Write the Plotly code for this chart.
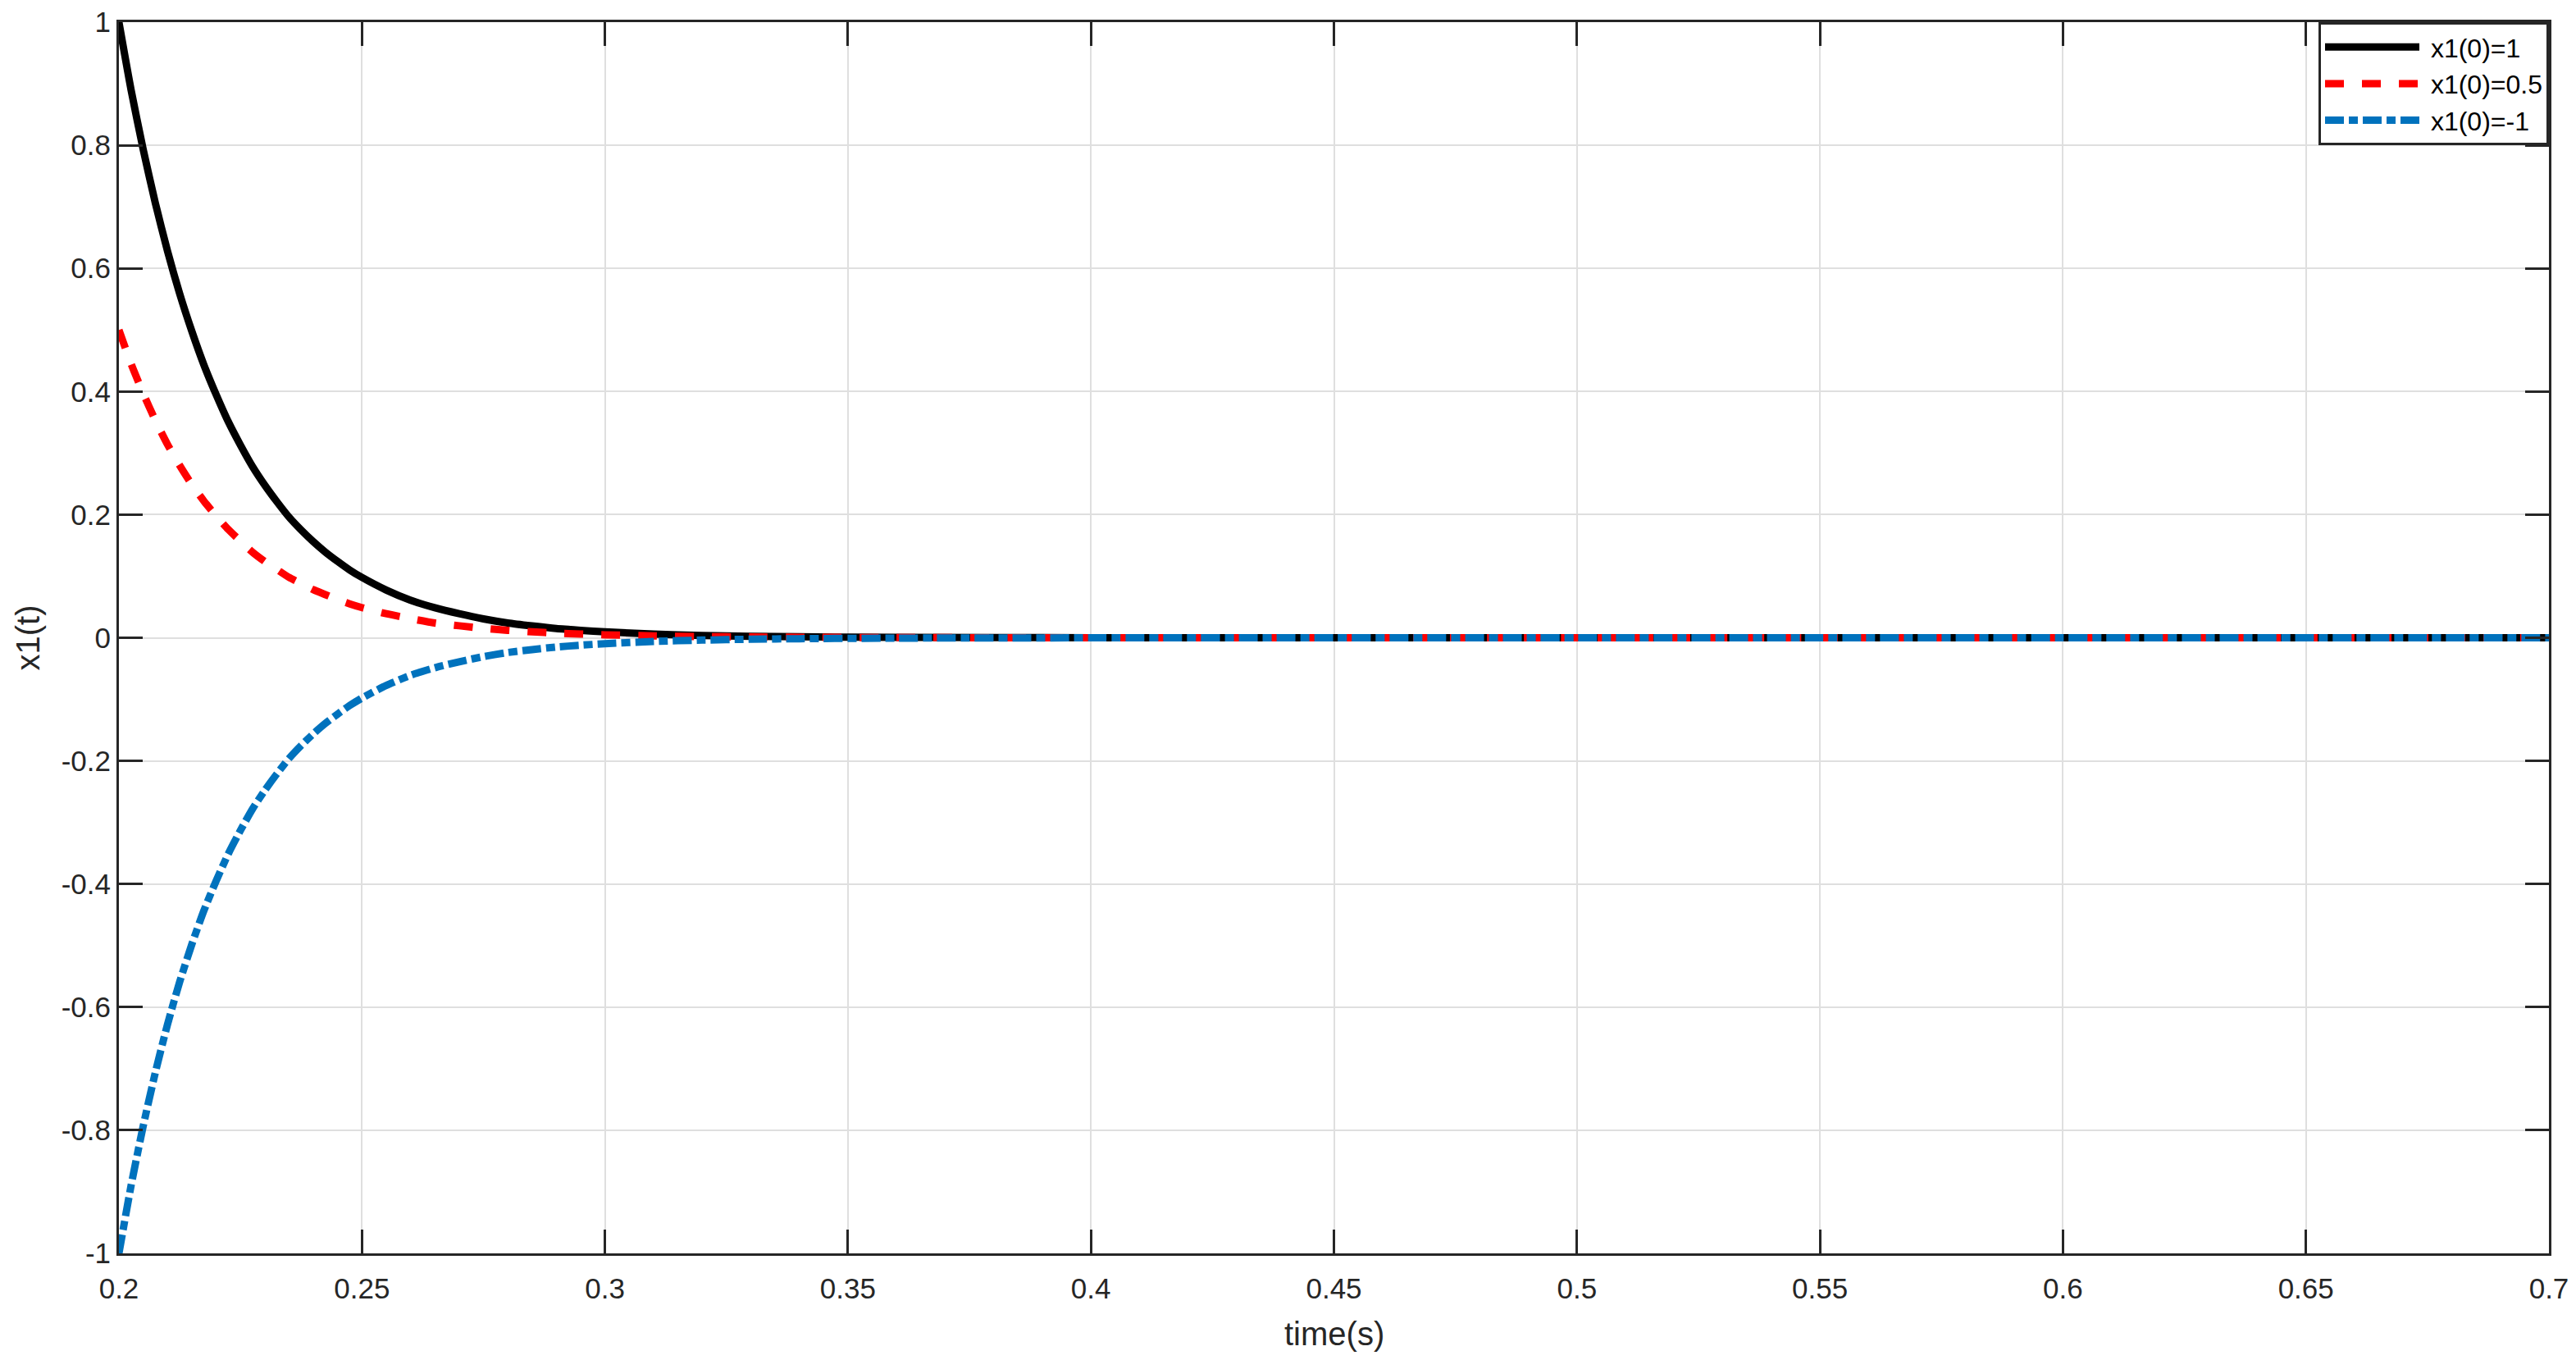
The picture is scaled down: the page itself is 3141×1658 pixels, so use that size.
import plotly.graph_objects as go

# time samples (s) and read-off responses of x1(t) for three initial conditions
t = [0.200, 0.2025, 0.205, 0.2075, 0.210, 0.2125, 0.215, 0.2175, 0.220, 0.2225,
     0.225, 0.2275, 0.230, 0.2325, 0.235, 0.2375, 0.240, 0.2425, 0.245, 0.2475,
     0.250, 0.255, 0.260, 0.265, 0.270, 0.275, 0.280, 0.285, 0.290, 0.295,
     0.300, 0.310, 0.320, 0.330, 0.340, 0.360, 0.400, 0.450, 0.500, 0.550,
     0.600, 0.650, 0.700]

x1_start_1 = [1.000, 0.890, 0.793, 0.706, 0.628, 0.559, 0.498, 0.443, 0.395, 0.351,
              0.313, 0.278, 0.248, 0.221, 0.196, 0.175, 0.156, 0.139, 0.124, 0.110,
              0.098, 0.0775, 0.061, 0.0487, 0.039, 0.0306, 0.024, 0.0192, 0.015, 0.0121,
              0.0096, 0.0060, 0.0038, 0.0024, 0.0015, 0.0006, 0.0001, 0.0, 0.0, 0.0,
              0.0, 0.0, 0.0]

x1_start_05 = [0.500, 0.445, 0.397, 0.353, 0.314, 0.280, 0.249, 0.222, 0.198, 0.176,
               0.157, 0.139, 0.124, 0.111, 0.098, 0.088, 0.078, 0.070, 0.062, 0.055,
               0.049, 0.039, 0.031, 0.024, 0.0195, 0.0153, 0.012, 0.0096, 0.0075, 0.006,
               0.0048, 0.003, 0.0019, 0.0012, 0.0008, 0.0003, 0.0, 0.0, 0.0, 0.0,
               0.0, 0.0, 0.0]

x1_start_m1 = [-1.000, -0.890, -0.793, -0.706, -0.628, -0.559, -0.498, -0.443, -0.395, -0.351,
               -0.313, -0.278, -0.248, -0.221, -0.196, -0.175, -0.156, -0.139, -0.124, -0.110,
               -0.098, -0.0775, -0.061, -0.0487, -0.039, -0.0306, -0.024, -0.0192, -0.015, -0.0121,
               -0.0096, -0.0060, -0.0038, -0.0024, -0.0015, -0.0006, -0.0001, 0.0, 0.0, 0.0,
               0.0, 0.0, 0.0]

x_tick_vals = [0.2, 0.25, 0.3, 0.35, 0.4, 0.45, 0.5, 0.55, 0.6, 0.65, 0.7]
x_tick_text = ["0.2", "0.25", "0.3", "0.35", "0.4", "0.45", "0.5", "0.55", "0.6", "0.65", "0.7"]
y_tick_vals = [-1, -0.8, -0.6, -0.4, -0.2, 0, 0.2, 0.4, 0.6, 0.8, 1]
y_tick_text = ["-1", "-0.8", "-0.6", "-0.4", "-0.2", "0", "0.2", "0.4", "0.6", "0.8", "1"]

FONT = "Liberation Sans, Arial, sans-serif"
AXIS_COLOR = "#262626"
GRID_COLOR = "#dfdfdf"

traces = [
    go.Scatter(x=t, y=x1_start_1, mode="lines", name="\u00a0x1(0)=1",
               line=dict(color="#000000", width=9, shape="spline", smoothing=0.6)),
    go.Scatter(x=t, y=x1_start_05, mode="lines", name="\u00a0x1(0)=0.5",
               line=dict(color="#ff0000", width=9, dash="23px,22px",
                         shape="spline", smoothing=0.6)),
    go.Scatter(x=t, y=x1_start_m1, mode="lines", name="\u00a0x1(0)=-1",
               line=dict(color="#0072bd", width=9, dash="23px,6px,11px,6px",
                         shape="spline", smoothing=0.6)),
]

axis_common = dict(
    showline=True,
    linecolor=AXIS_COLOR,
    linewidth=3,
    mirror="ticks",
    ticks="inside",
    ticklen=29,
    tickwidth=3,
    tickcolor=AXIS_COLOR,
    showgrid=True,
    gridcolor=GRID_COLOR,
    gridwidth=2,
    zeroline=False,
    automargin=False,
    ticklabeloverflow="allow",
    tickfont=dict(family=FONT, size=35, color=AXIS_COLOR),
)

# the page body adds 8px around the figure, so the figure is sized to fit inside it
layout = go.Layout(
    width=3125,
    height=1642,
    paper_bgcolor="white",
    plot_bgcolor="white",
    margin=dict(l=137, r=25, t=19, b=122),
    font=dict(family=FONT, color=AXIS_COLOR),
    xaxis=dict(
        axis_common,
        range=[0.2, 0.7],
        tickvals=x_tick_vals,
        ticktext=x_tick_text,
        ticklabelstandoff=10,
    ),
    yaxis=dict(
        axis_common,
        range=[-1, 1],
        tickvals=y_tick_vals,
        ticktext=y_tick_text,
    ),
    annotations=[
        dict(text="time(s)", xref="paper", yref="paper", x=0.5, y=0,
             xanchor="center", yanchor="middle", yshift=-98, showarrow=False,
             font=dict(family=FONT, size=40, color=AXIS_COLOR)),
        dict(text="x1(t)", xref="paper", yref="paper", x=0, y=0.5,
             xanchor="center", yanchor="middle", xshift=-112, textangle=-90,
             showarrow=False, font=dict(family=FONT, size=40, color=AXIS_COLOR)),
    ],
    legend=dict(
        x=1, y=1, xanchor="right", yanchor="top",
        bgcolor="white",
        bordercolor=AXIS_COLOR,
        borderwidth=3,
        font=dict(family=FONT, size=32, color="#000000"),
        itemwidth=115,
        tracegroupgap=0,
    ),
    showlegend=True,
)

fig = go.Figure(data=traces, layout=layout)
fig.write_html("out.html")
